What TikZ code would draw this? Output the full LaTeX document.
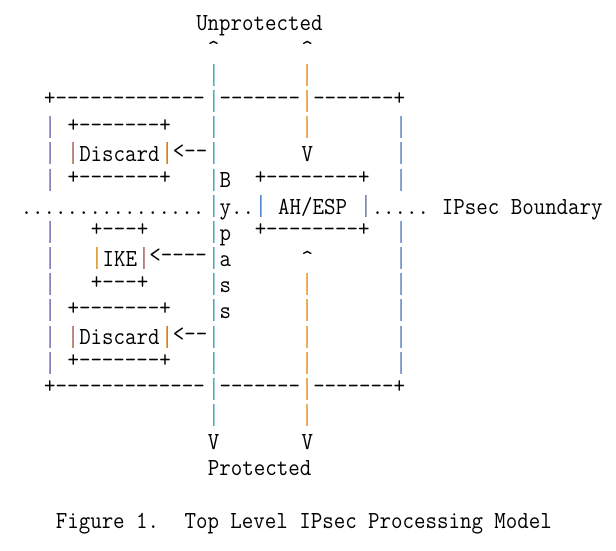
\documentclass[tikz,border=0pt]{standalone}
\usepackage{fontspec}
\usepackage{graphicx}
\definecolor{cAL}{HTML}{B89AA8}\definecolor{cAR}{HTML}{8F7FBF}
\definecolor{cBL}{HTML}{C09080}\definecolor{cBR}{HTML}{A08898}
\definecolor{cCL}{HTML}{E0A040}\definecolor{cCR}{HTML}{E8B860}
\definecolor{cDL}{HTML}{D07070}\definecolor{cDR}{HTML}{C89090}
\definecolor{cEL}{HTML}{E8A860}\definecolor{cER}{HTML}{7890C8}
\definecolor{cFL}{HTML}{C87878}\definecolor{cFR}{HTML}{98D0E0}
\definecolor{cGL}{HTML}{5888D0}\definecolor{cGR}{HTML}{90B0E0}
\definecolor{cHL}{HTML}{F0B060}\definecolor{cHR}{HTML}{E8A858}
\definecolor{cIL}{HTML}{7890C0}\definecolor{cIR}{HTML}{A0A8C0}
\definecolor{cJL}{HTML}{90A8D8}\definecolor{cJR}{HTML}{7898D8}
\newcommand\dsh[1]{\foreach \i in {1,...,#1}{-}}
\newcommand\lift[1]{\raisebox{3.2pt}{#1}}
\newcommand\T[4]{\node[txt] (#1) at ({50+11.7*(#2-0.5)},{22.5+26.18*#3+8.3}) {\scalebox{1}[1.1]{#4}};}
\newcommand\VB[4]{%
  \draw[vb,draw=#3] ({50+11.7*#1-0.5},{22.5+26.18*#2-11}) -- ++(0,22);
  \draw[vb,draw=#4] ({50+11.7*#1+0.5},{22.5+26.18*#2-11}) -- ++(0,22);}
\begin{document}
\begin{tikzpicture}[x=1pt,y=-1pt,
  txt/.style={anchor=base west,inner sep=0pt,outer sep=0pt,text=black,
    font=\ttfamily\fontsize{22.29pt}{26pt}\selectfont},
  vb/.style={line width=1pt,line cap=butt}]
\path[fill=white,use as bounding box] (0,0) rectangle (616,550);
% row 0-2
\T{unprot}{13}{0}{Unprotected}
\T{upA}{14}{1}{\^{}}
\T{upB}{22}{1}{\^{}}
% row 3 top border
\T{topL}{0}{3}{\lift{+\dsh{13}}}
\T{topM}{15}{3}{\lift{\dsh{7}}}
\T{topR}{23}{3}{\lift{\dsh{7}+}}
% rows 4-6
\T{dAt}{2}{4}{\lift{+\dsh{7}+}}
\T{dA}{3}{5}{Discard}
\T{dAarr}{11}{5}{\lift{<\dsh{2}}}
\T{vIn}{22}{5}{V}
\T{dAb}{2}{6}{\lift{+\dsh{7}+}}
\T{bB}{15}{6}{B}
\T{ahT}{18}{6}{\lift{+\dsh{8}+}}
% row 7
\T{dotsL}{-2}{7}{................}
\T{bY}{15}{7}{y..}
\T{ah}{20}{7}{AH/ESP}
\T{dotsR}{28}{7}{.....}
\T{bound}{34}{7}{IPsec Boundary}
% rows 8-10
\T{ikeT}{4}{8}{\lift{+\dsh{3}+}}
\T{bP}{15}{8}{p}
\T{ahB}{18}{8}{\lift{+\dsh{8}+}}
\T{ike}{5}{9}{IKE}
\T{ikeArr}{9}{9}{\lift{<\dsh{4}}}
\T{bA}{15}{9}{a}
\T{upC}{22}{9}{\^{}}
\T{ikeB}{4}{10}{\lift{+\dsh{3}+}}
\T{bS1}{15}{10}{s}
% rows 11-13
\T{dBt}{2}{11}{\lift{+\dsh{7}+}}
\T{bS2}{15}{11}{s}
\T{dB}{3}{12}{Discard}
\T{dBarr}{11}{12}{\lift{<\dsh{2}}}
\T{dBb}{2}{13}{\lift{+\dsh{7}+}}
% row 14 bottom border
\T{botL}{0}{14}{\lift{+\dsh{13}}}
\T{botM}{15}{14}{\lift{\dsh{7}}}
\T{botR}{23}{14}{\lift{\dsh{7}+}}
% rows 16-17
\T{vA}{14}{16}{V}
\T{vB}{22}{16}{V}
\T{prot}{14}{17}{Protected}
% caption
\T{figA}{1}{19}{Figure 1.}
\T{figB}{12}{19}{Top Level IPsec Processing Model}
% vertical bars
\foreach \r in {4,5,6,8,9,10,11,12,13} {\VB{0}{\r}{cAL}{cAR}}
\foreach \r in {5,12} {\VB{2}{\r}{cBL}{cBR}\VB{10}{\r}{cEL}{cER}}
\VB{4}{9}{cCL}{cCR}
\VB{8}{9}{cDL}{cDR}
\foreach \r in {2,...,15} {\VB{14}{\r}{cFL}{cFR}}
\VB{18}{7}{cGL}{cGR}
\VB{27}{7}{cIL}{cIR}
\foreach \r in {2,3,4,10,11,12,13,14,15} {\VB{22}{\r}{cHL}{cHR}}
\foreach \r in {4,5,6,8,9,10,11,12,13} {\VB{30}{\r}{cJL}{cJR}}
\end{tikzpicture}
\end{document}
